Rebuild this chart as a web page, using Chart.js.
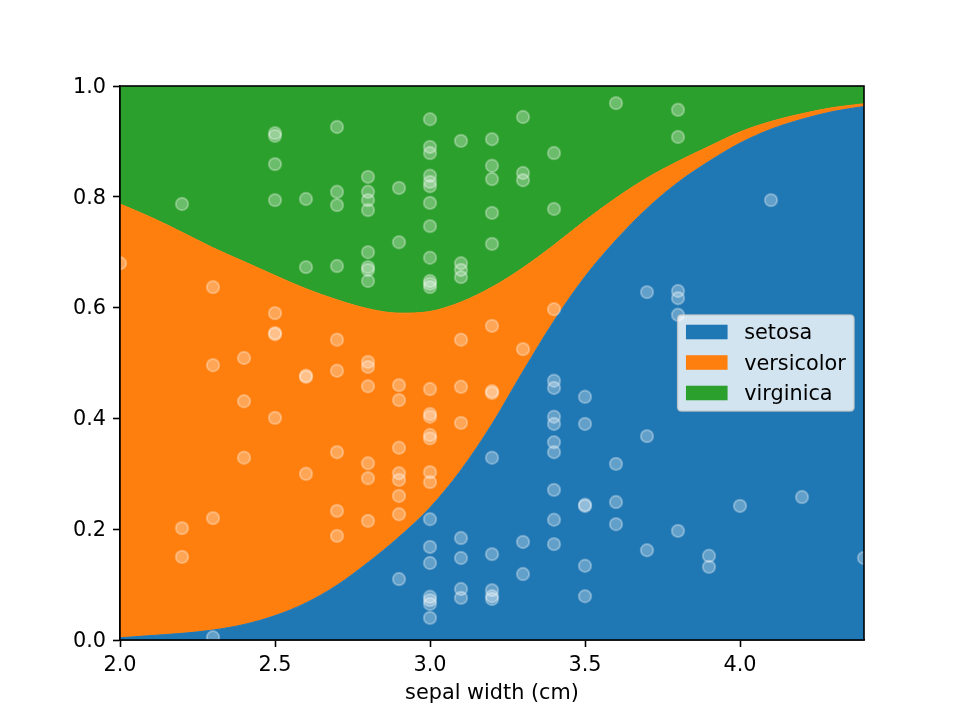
<!DOCTYPE html>
<html><head><meta charset="utf-8">
<script src="https://cdn.jsdelivr.net/npm/chart.js@4"></script>
<style>html,body{margin:0;padding:0;background:#fff}</style>
</head><body>
<canvas id="c" width="960" height="720"></canvas>
<script>
// ---- data ----
const gridX = [2.0,2.1,2.2,2.3,2.4,2.5,2.6,2.7,2.8,2.9,3.0,3.1,3.2,3.3,3.4,3.5,3.6,3.7,3.8,3.9,4.0,4.1,4.2,4.3,4.4];
const setosa = [0.004,0.008,0.012,0.018,0.028,0.044,0.067,0.099,0.140,0.186,0.239,0.307,0.390,0.485,0.576,0.656,0.722,0.779,0.826,0.864,0.897,0.922,0.940,0.954,0.963];
const versicolor = [0.783,0.755,0.724,0.690,0.655,0.614,0.567,0.515,0.458,0.404,0.354,0.303,0.247,0.187,0.137,0.101,0.076,0.055,0.038,0.027,0.020,0.014,0.010,0.007,0.005];
const virginica = [0.213,0.237,0.264,0.292,0.317,0.342,0.366,0.386,0.402,0.410,0.407,0.390,0.363,0.328,0.287,0.243,0.202,0.166,0.136,0.109,0.083,0.064,0.050,0.039,0.032];

const pointX = [
 2.0,
 2.2,2.2,2.2,
 2.3,2.3,2.3,2.3,
 2.4,2.4,2.4,
 2.5,2.5,2.5,2.5,2.5,2.5,2.5,2.5,
 2.6,2.6,2.6,2.6,2.6,
 2.7,2.7,2.7,2.7,2.7,2.7,2.7,2.7,2.7,
 2.8,2.8,2.8,2.8,2.8,2.8,2.8,2.8,2.8,2.8,2.8,2.8,2.8,2.8,
 2.9,2.9,2.9,2.9,2.9,2.9,2.9,2.9,2.9,2.9,
 3.0,3.0,3.0,3.0,3.0,3.0,3.0,3.0,3.0,3.0,3.0,3.0,3.0,3.0,3.0,3.0,3.0,3.0,3.0,3.0,3.0,3.0,3.0,3.0,3.0,3.0,
 3.1,3.1,3.1,3.1,3.1,3.1,3.1,3.1,3.1,3.1,3.1,
 3.2,3.2,3.2,3.2,3.2,3.2,3.2,3.2,3.2,3.2,3.2,3.2,3.2,
 3.3,3.3,3.3,3.3,3.3,3.3,
 3.4,3.4,3.4,3.4,3.4,3.4,3.4,3.4,3.4,3.4,3.4,3.4,
 3.5,3.5,3.5,3.5,3.5,3.5,
 3.6,3.6,3.6,3.6,
 3.7,3.7,3.7,
 3.8,3.8,3.8,3.8,3.8,3.8,
 3.9,3.9,
 4.0,4.1,4.2,4.4
];
const pointY = [
 0.680,
 0.787,0.202,0.150,
 0.637,0.496,0.220,0.005,
 0.509,0.431,0.329,
 0.915,0.910,0.859,0.794,0.590,0.554,0.552,0.401,
 0.796,0.673,0.477,0.475,0.300,
 0.926,0.809,0.785,0.675,0.542,0.486,0.339,0.233,0.188,
 0.836,0.809,0.794,0.776,0.700,0.673,0.668,0.648,0.502,0.493,0.458,0.319,0.292,0.215,
 0.816,0.718,0.460,0.433,0.347,0.301,0.289,0.260,0.227,0.110,
 0.940,0.890,0.879,0.838,0.827,0.819,0.789,0.747,0.690,0.648,0.643,0.637,0.453,0.408,0.403,0.370,0.364,0.303,0.285,0.218,0.168,0.139,0.078,0.072,0.065,0.040,
 0.901,0.680,0.668,0.655,0.542,0.457,0.392,0.184,0.148,0.092,0.076,
 0.904,0.856,0.832,0.771,0.715,0.567,0.449,0.446,0.329,0.155,0.090,0.079,0.074,
 0.944,0.843,0.830,0.525,0.177,0.119,
 0.879,0.778,0.597,0.468,0.455,0.403,0.390,0.357,0.339,0.271,0.217,0.173,
 0.439,0.390,0.244,0.242,0.134,0.079,
 0.969,0.318,0.249,0.209,
 0.628,0.368,0.162,
 0.957,0.908,0.630,0.617,0.587,0.197,
 0.152,0.132,
 0.242,0.794,0.258,0.148
];

const xTicks = [2.0,2.5,3.0,3.5,4.0];
const yTicks = [0.0,0.2,0.4,0.6,0.8,1.0];
const classNames = ['setosa','versicolor','virginica'];
const classColors = ['#1f77b4','#ff7f0e','#2ca02c'];
const xLabel = 'sepal width (cm)';

// ---- chart ----
const FONT = {family:'DejaVu Sans', size:20.8};
const series = [setosa, versicolor, virginica];

const areaSets = series.map((vals,k)=>({
  type:'line',
  label: classNames[k],
  data: gridX.map((x,i)=>({x:x, y:vals[i]})),
  backgroundColor: classColors[k],
  borderColor: classColors[k],
  borderWidth: 1,
  pointRadius: 0,
  pointHoverRadius: 0,
  fill: k===0 ? 'origin' : '-1',
  cubicInterpolationMode: 'monotone',
  yAxisID: 'y',
  order: 1
}));

const scatterSet = {
  type:'scatter',
  label:'samples',
  data: pointX.map((x,i)=>({x:x, y:pointY[i]})),
  yAxisID:'y2',
  pointRadius: 6.2,
  pointBorderWidth: 2,
  backgroundColor:'rgba(255,255,255,0.3)',
  borderColor:'rgba(255,255,255,0.3)',
  clip: 0,
  order: 0
};

const framePlugin = {
  id:'frame',
  afterDraw(chart){
    const {ctx, chartArea:a} = chart;
    ctx.save();
    ctx.strokeStyle = '#000';
    ctx.lineWidth = 1.6;
    ctx.strokeRect(a.left, a.top, a.right-a.left, a.bottom-a.top);
    ctx.restore();

    // legend (matplotlib style, center right)
    const fs = FONT.size;
    ctx.save();
    ctx.font = fs + 'px "DejaVu Sans"';
    let maxW = 0;
    classNames.forEach(n=>{ maxW = Math.max(maxW, ctx.measureText(n).width); });
    const pad = 0.4*fs, handleW = 2.0*fs, handleH = 0.7*fs, textPad = 0.8*fs, rowH = 30.5;
    const w = pad + handleW + textPad + maxW + pad;
    const h = 96;
    const right = a.right - 10;
    const left = right - w;
    const top = (a.top + a.bottom)/2 - h/2;
    const r = 4;
    ctx.beginPath();
    ctx.moveTo(left+r, top);
    ctx.lineTo(right-r, top); ctx.quadraticCurveTo(right, top, right, top+r);
    ctx.lineTo(right, top+h-r); ctx.quadraticCurveTo(right, top+h, right-r, top+h);
    ctx.lineTo(left+r, top+h); ctx.quadraticCurveTo(left, top+h, left, top+h-r);
    ctx.lineTo(left, top+r); ctx.quadraticCurveTo(left, top, left+r, top);
    ctx.closePath();
    ctx.fillStyle = 'rgba(255,255,255,0.8)';
    ctx.fill();
    ctx.strokeStyle = 'rgba(204,204,204,0.8)';
    ctx.lineWidth = 1.5;
    ctx.stroke();
    classNames.forEach((n,k)=>{
      const cy = top + 17 + k*rowH;
      ctx.fillStyle = classColors[k];
      ctx.fillRect(left+pad, cy - handleH/2, handleW, handleH);
      ctx.fillStyle = '#000';
      ctx.textBaseline = 'alphabetic';
      ctx.textAlign = 'left';
      ctx.fillText(n, left+pad+handleW+textPad, cy + 7);
    });
    ctx.restore();
  }
};

new Chart(document.getElementById('c'), {
  type:'line',
  data:{ datasets:[...areaSets, scatterSet] },
  options:{
    responsive:false,
    animation:false,
    devicePixelRatio:1,
    layout:{padding:{top:86, right:96, left:0, bottom:0}},
    plugins:{legend:{display:false}, tooltip:{enabled:false}},
    scales:{
      x:{
        type:'linear', min:2.0, max:4.4,
        afterBuildTicks:s=>{ s.ticks = xTicks.map(v=>({value:v})); },
        afterFit:s=>{ s.height = 80; },
        ticks:{font:FONT, color:'#000', padding:6, maxRotation:0, autoSkip:false, callback:v=>Number(v).toFixed(1)},
        grid:{drawOnChartArea:false, drawTicks:true, tickLength:7, tickWidth:1.6, tickColor:'#000'},
        border:{display:true, color:'#000', width:1.6},
        title:{display:true, text:xLabel, font:FONT, color:'#000', padding:{top:0, bottom:14}}
      },
      y:{
        type:'linear', stacked:true, min:0, max:1,
        afterBuildTicks:s=>{ s.ticks = yTicks.map(v=>({value:v})); },
        afterFit:s=>{ s.width = 120; },
        ticks:{font:FONT, color:'#000', padding:7, labelOffset:1.5, autoSkip:false, callback:v=>Number(v).toFixed(1)},
        grid:{drawOnChartArea:false, drawTicks:true, tickLength:7, tickWidth:1.6, tickColor:'#000'},
        border:{display:true, color:'#000', width:1.6}
      },
      y2:{type:'linear', display:false, min:0, max:1}
    }
  },
  plugins:[framePlugin]
});
</script>
</body></html>
